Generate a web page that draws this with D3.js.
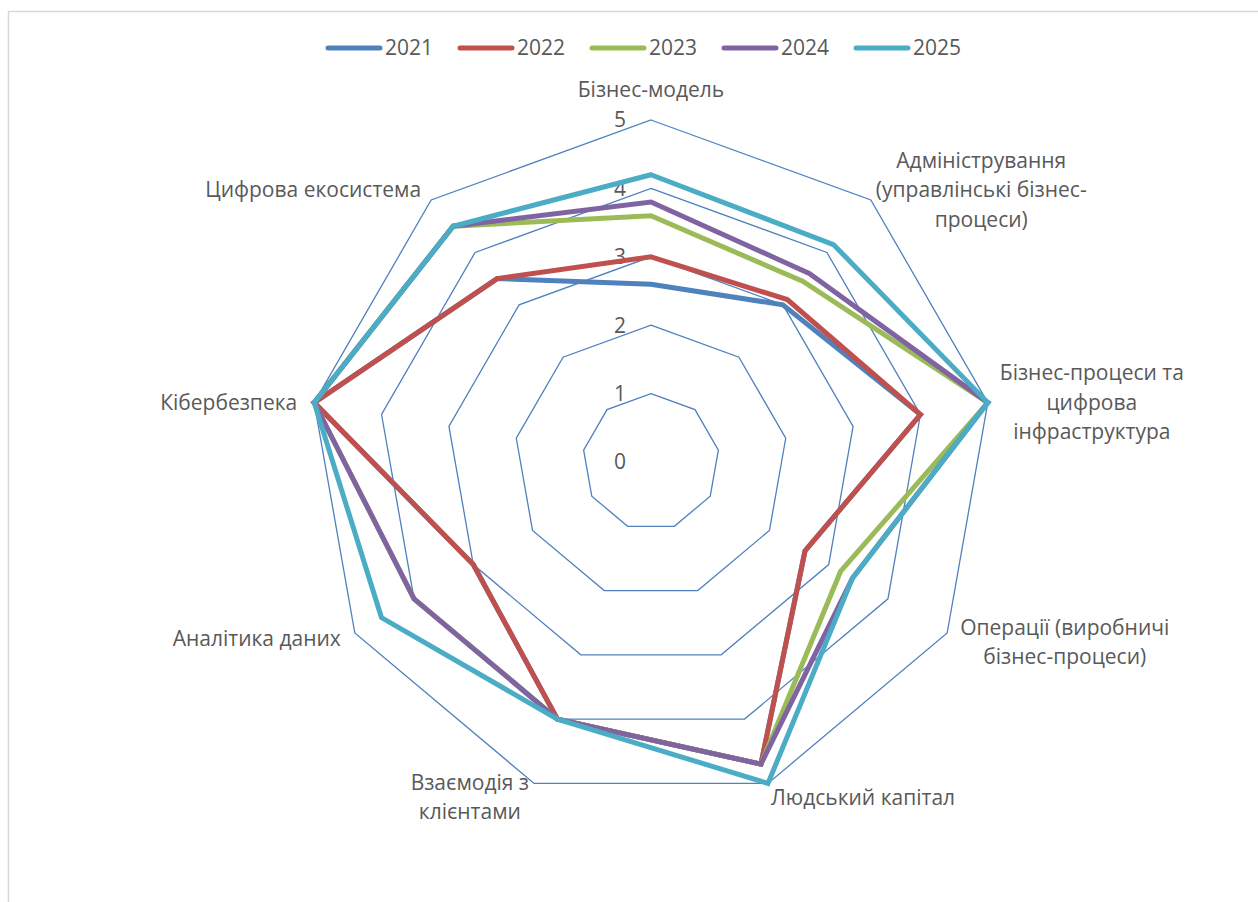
<!DOCTYPE html>
<html>
<head>
<meta charset="utf-8">
<script src="https://cdn.jsdelivr.net/npm/d3@7"></script>
<style>
  body { margin: 0; background: #fff; }
  text { font-family: "Open Sans", "Noto Sans", sans-serif; fill: #595959; }
</style>
</head>
<body>
<div id="chart"></div>
<script>
var svgWidth = 1258;
var svgHeight = 902;

// Categories (axes), clockwise from the top
var categories = [
  ["Бізнес-модель"],
  ["Адміністрування", "(управлінські бізнес-", "процеси)"],
  ["Бізнес-процеси та", "цифрова", "інфраструктура"],
  ["Операції (виробничі", "бізнес-процеси)"],
  ["Людський капітал"],
  ["Взаємодія з", "клієнтами"],
  ["Аналітика даних"],
  ["Кібербезпека"],
  ["Цифрова екосистема"]
];

var years = ["2021", "2022", "2023", "2024", "2025"];

var values2021 = [2.6, 3.0, 4.0, 2.6, 4.7, 4.0, 3.0, 5.0, 3.5];
var values2022 = [3.0, 3.1, 4.0, 2.6, 4.7, 4.0, 3.0, 5.0, 3.5];
var values2023 = [3.6, 3.45, 5.0, 3.2, 4.7, 4.0, 4.0, 5.0, 4.5];
var values2024 = [3.8, 3.6, 5.0, 3.4, 4.7, 4.0, 4.0, 5.0, 4.5];
var values2025 = [4.2, 4.15, 5.0, 3.4, 5.0, 4.0, 4.55, 5.0, 4.5];

var tickValues = [0, 1, 2, 3, 4, 5];

var colors = ["#4F81BD", "#C0504D", "#9BBB59", "#8064A2", "#4BACC6"];

var series = [values2021, values2022, values2023, values2024, values2025];

// Center and radius of the radar
var cx = 651, cy = 462, radius = 342;
var fontSize = "21px";

var svg = d3.select("#chart")
  .append("svg")
  .attr("width", svgWidth)
  .attr("height", svgHeight);

// Chart area border
svg.append("rect")
  .attr("x", 8.5)
  .attr("y", 11.5)
  .attr("width", svgWidth + 20)
  .attr("height", svgHeight + 20)
  .attr("fill", "none")
  .attr("stroke", "#d9d9d9")
  .attr("stroke-width", 1.5);

var rScale = d3.scaleLinear()
  .domain([0, 5])
  .range([0, radius]);

var angle = d3.scalePoint()
  .domain(d3.range(categories.length + 1))
  .range([0, 2 * Math.PI]);

var g = svg.append("g")
  .attr("transform", `translate(${cx}, ${cy})`);

var radial = d3.lineRadial()
  .angle((d, i) => angle(i % categories.length))
  .radius(d => rScale(d))
  .curve(d3.curveLinearClosed);

// Grid polygons
g.selectAll(".ring")
  .data(tickValues.slice(1))
  .enter()
  .append("path")
  .attr("class", "ring")
  .attr("d", t => radial(categories.map(() => t)))
  .attr("fill", "none")
  .attr("stroke", "#4F81BD")
  .attr("stroke-width", 1.3);

// Tick labels
g.selectAll(".tick")
  .data(tickValues)
  .enter()
  .append("text")
  .attr("class", "tick")
  .attr("x", -31)
  .attr("y", d => -rScale(d))
  .attr("dy", "0.35em")
  .style("text-anchor", "middle")
  .style("font-size", fontSize)
  .text(d => d);

// Series lines
g.selectAll(".series")
  .data(series)
  .enter()
  .append("path")
  .attr("class", "series")
  .attr("d", d => radial(d))
  .attr("fill", "none")
  .attr("stroke", (d, i) => colors[i])
  .attr("stroke-width", 5)
  .attr("stroke-linejoin", "miter");

// Category labels: gap from outer vertex, anchor side and vertical shift
var labelPlace = [
  { dx: 0, dy: -30, side: "middle" },
  { dx: 5, dy: -10, side: "start" },
  { dx: 12, dy: 0, side: "start" },
  { dx: 13, dy: 9, side: "start" },
  { dx: 3, dy: 14, side: "start" },
  { dx: -5, dy: 14, side: "end" },
  { dx: -14, dy: 6, side: "end" },
  { dx: -17, dy: 0, side: "end" },
  { dx: -10, dy: -10, side: "end" }
];
var lineH = 29.5;

categories.forEach(function (lines, i) {
  var a = angle(i);
  var vx = Math.sin(a) * radius;
  var vy = -Math.cos(a) * radius;
  var p = labelPlace[i];
  var lab = g.append("text")
    .style("font-size", fontSize)
    .style("text-anchor", "middle");
  var spans = lab.selectAll("tspan")
    .data(lines)
    .enter()
    .append("tspan")
    .attr("y", (d, k) => vy + p.dy + (k - (lines.length - 1) / 2) * lineH)
    .attr("dy", "0.35em")
    .text(d => d);
  var w = d3.max(spans.nodes(), n => n.getComputedTextLength());
  var centerX = vx + p.dx;
  if (p.side === "start") centerX += w / 2;
  if (p.side === "end") centerX -= w / 2;
  spans.attr("x", centerX);
});

// Legend
var legend = svg.append("g")
  .attr("transform", "translate(326, 48)");

var items = legend.selectAll(".item")
  .data(years)
  .enter()
  .append("g")
  .attr("class", "item")
  .attr("transform", (d, i) => `translate(${i * 132}, 0)`);

items.append("line")
  .attr("x1", 2)
  .attr("x2", 54)
  .attr("stroke", (d, i) => colors[i])
  .attr("stroke-width", 5)
  .attr("stroke-linecap", "round");

items.append("text")
  .attr("x", 59)
  .attr("dy", "0.35em")
  .style("font-size", fontSize)
  .text(d => d);
</script>
</body>
</html>
